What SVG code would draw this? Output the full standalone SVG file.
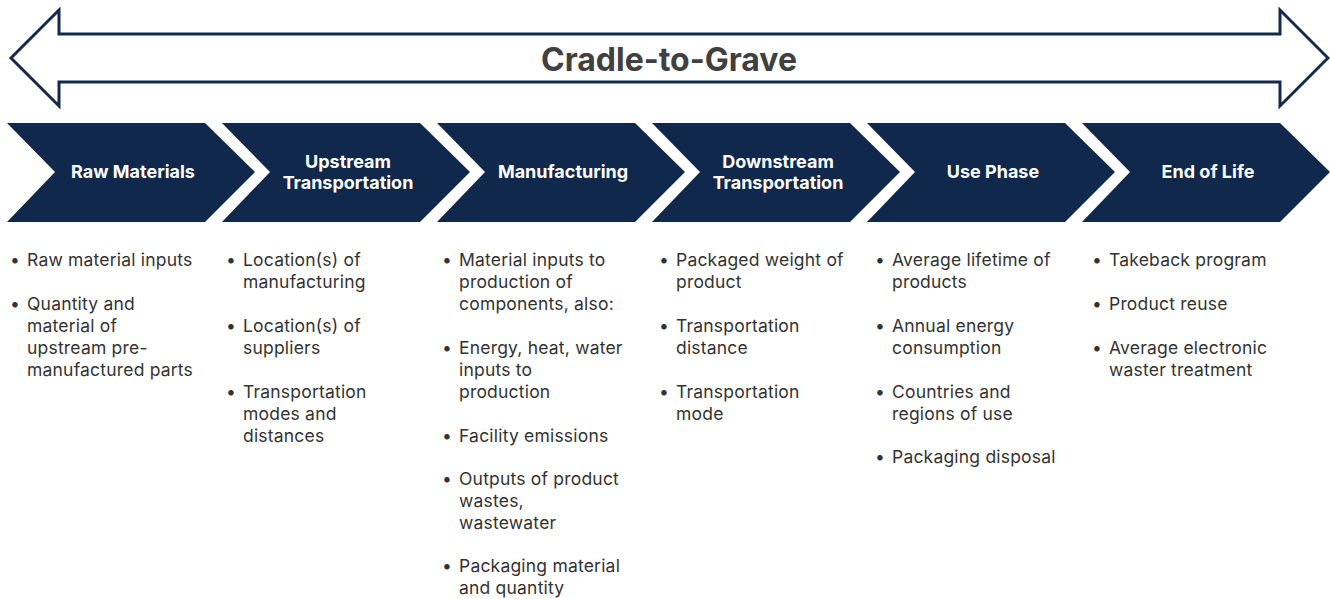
<svg xmlns="http://www.w3.org/2000/svg" width="1330" height="599" viewBox="0 0 1330 599">
<style>
.chev{fill:#10284C}
.lbl{font-family:Inter,"Liberation Sans",sans-serif;font-weight:700;font-size:18px;fill:#FFFFFF;text-anchor:middle}
.body{font-family:Inter,"Liberation Sans",sans-serif;font-size:17.5px;letter-spacing:0.2px;fill:#333333}
.title{font-family:Inter,"Liberation Sans",sans-serif;font-weight:700;font-size:32px;fill:#404040;text-anchor:middle}
</style>
<rect width="1330" height="599" fill="#FFFFFF"/>
<g id="cradle-to-grave">
<path d="M11,58 L59,10 L59,34 L1280,34 L1280,10 L1328,58 L1280,106 L1280,82 L59,82 L59,106 Z" fill="#FFFFFF" stroke="#13294D" stroke-width="3" stroke-linejoin="miter"/>
<text class="title" x="669" y="71">Cradle-to-Grave</text>
</g>
<g id="connectors"></g>
<g id="raw-materials">
<path class="chev" d="M7,123 L205,123 L255,172 L205,222 L7,222 L55,172 Z"/>
<text class="lbl" x="133" y="178">Raw Materials</text>
<text class="body"><tspan x="10" y="266">•</tspan><tspan x="27" y="266">Raw material inputs</tspan>
<tspan x="10" y="310">•</tspan><tspan x="27" y="310">Quantity and</tspan><tspan x="27" y="332">material of</tspan><tspan x="27" y="354">upstream pre-</tspan><tspan x="27" y="376">manufactured parts</tspan></text>
</g>
<g id="upstream-transportation">
<path class="chev" d="M222,123 L420,123 L470,172 L420,222 L222,222 L270,172 Z"/>
<text class="lbl" x="348" y="168">Upstream</text>
<text class="lbl" x="348" y="189">Transportation</text>
<text class="body"><tspan x="226" y="266">•</tspan><tspan x="243" y="266">Location(s) of</tspan><tspan x="243" y="288">manufacturing</tspan>
<tspan x="226" y="332">•</tspan><tspan x="243" y="332">Location(s) of</tspan><tspan x="243" y="354">suppliers</tspan>
<tspan x="226" y="398">•</tspan><tspan x="243" y="398">Transportation</tspan><tspan x="243" y="420">modes and</tspan><tspan x="243" y="442">distances</tspan></text>
</g>
<g id="manufacturing">
<path class="chev" d="M437,123 L635,123 L685,172 L635,222 L437,222 L485,172 Z"/>
<text class="lbl" x="563" y="178">Manufacturing</text>
<text class="body"><tspan x="442" y="266">•</tspan><tspan x="459" y="266">Material inputs to</tspan><tspan x="459" y="288">production of</tspan><tspan x="459" y="310">components, also:</tspan>
<tspan x="442" y="354">•</tspan><tspan x="459" y="354">Energy, heat, water</tspan><tspan x="459" y="376">inputs to</tspan><tspan x="459" y="398">production</tspan>
<tspan x="442" y="442">•</tspan><tspan x="459" y="442">Facility emissions</tspan>
<tspan x="442" y="485">•</tspan><tspan x="459" y="485">Outputs of product</tspan><tspan x="459" y="507">wastes,</tspan><tspan x="459" y="529">wastewater</tspan>
<tspan x="442" y="572">•</tspan><tspan x="459" y="572">Packaging material</tspan><tspan x="459" y="594">and quantity</tspan></text>
</g>
<g id="downstream-transportation">
<path class="chev" d="M652,123 L850,123 L900,172 L850,222 L652,222 L700,172 Z"/>
<text class="lbl" x="778" y="168">Downstream</text>
<text class="lbl" x="778" y="189">Transportation</text>
<text class="body"><tspan x="659" y="266">•</tspan><tspan x="676" y="266">Packaged weight of</tspan><tspan x="676" y="288">product</tspan>
<tspan x="659" y="332">•</tspan><tspan x="676" y="332">Transportation</tspan><tspan x="676" y="354">distance</tspan>
<tspan x="659" y="398">•</tspan><tspan x="676" y="398">Transportation</tspan><tspan x="676" y="420">mode</tspan></text>
</g>
<g id="use-phase">
<path class="chev" d="M867,123 L1065,123 L1115,172 L1065,222 L867,222 L915,172 Z"/>
<text class="lbl" x="993" y="178">Use Phase</text>
<text class="body"><tspan x="875" y="266">•</tspan><tspan x="892" y="266">Average lifetime of</tspan><tspan x="892" y="288">products</tspan>
<tspan x="875" y="332">•</tspan><tspan x="892" y="332">Annual energy</tspan><tspan x="892" y="354">consumption</tspan>
<tspan x="875" y="398">•</tspan><tspan x="892" y="398">Countries and</tspan><tspan x="892" y="420">regions of use</tspan>
<tspan x="875" y="463">•</tspan><tspan x="892" y="463">Packaging disposal</tspan></text>
</g>
<g id="end-of-life">
<path class="chev" d="M1082,123 L1280,123 L1330,172 L1280,222 L1082,222 L1130,172 Z"/>
<text class="lbl" x="1208" y="178">End of Life</text>
<text class="body"><tspan x="1092" y="266">•</tspan><tspan x="1109" y="266">Takeback program</tspan>
<tspan x="1092" y="310">•</tspan><tspan x="1109" y="310">Product reuse</tspan>
<tspan x="1092" y="354">•</tspan><tspan x="1109" y="354">Average electronic</tspan><tspan x="1109" y="376">waster treatment</tspan></text>
</g>
</svg>
